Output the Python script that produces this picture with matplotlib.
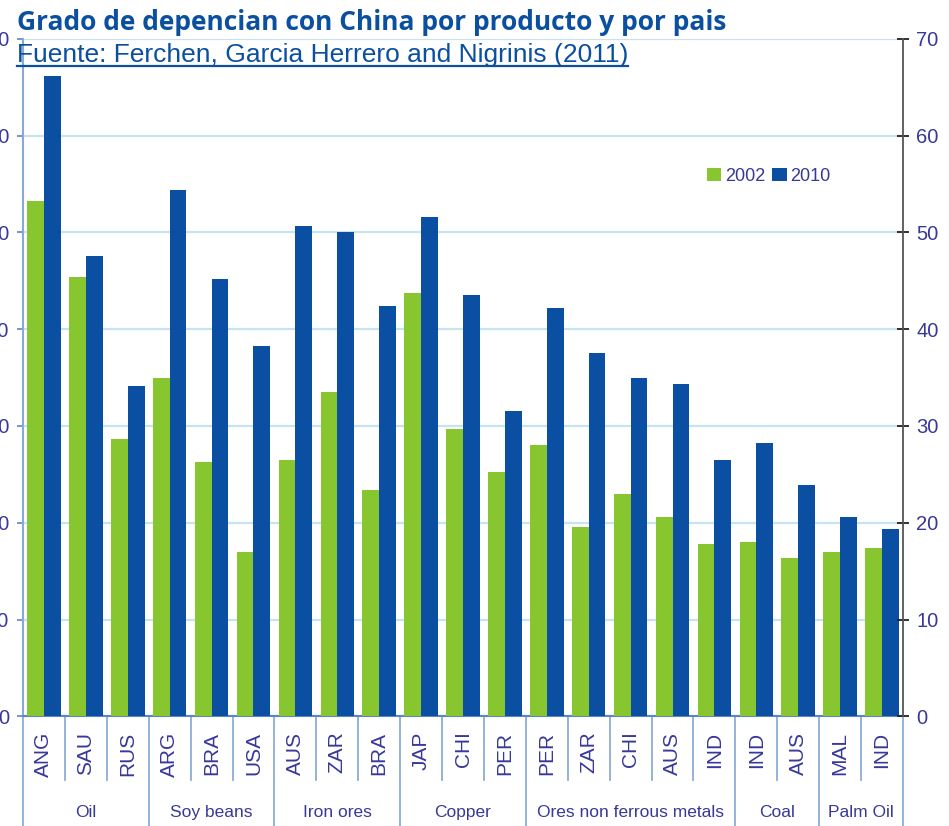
import numpy as np
import matplotlib
matplotlib.use("Agg")
from matplotlib import pyplot as plt
from matplotlib.lines import Line2D
import matplotlib.transforms as mtransforms

# china dependence by product and country (%)
countries = ["ANG", "SAU", "RUS", "ARG", "BRA", "USA", "AUS", "ZAR", "BRA", "JAP", "CHI",
             "PER", "PER", "ZAR", "CHI", "AUS", "IND", "IND", "AUS", "MAL", "IND"]
groups = ["Oil", "Soy beans", "Iron ores", "Copper", "Ores non ferrous metals", "Coal", "Palm Oil"]
group_sizes = [3, 3, 3, 3, 5, 2, 2]
v2002 = [53.2, 45.4, 28.6, 34.9, 26.3, 17.0, 26.5, 33.5, 23.4, 43.7, 29.7,
         25.2, 28.0, 19.6, 23.0, 20.6, 17.8, 18.0, 16.4, 17.0, 17.4]
v2010 = [66.1, 47.6, 34.1, 54.4, 45.2, 38.3, 50.6, 50.0, 42.4, 51.6, 43.5,
         31.5, 42.2, 37.5, 34.9, 34.3, 26.5, 28.2, 23.9, 20.6, 19.4]
yticks = [0, 10, 20, 30, 40, 50, 60, 70]

GREEN = "#88c630"
BLUE = "#0b4fa2"
TXT = "#38389a"
TITLE = "#0b4f9f"

plt.rcParams["font.family"] = ["Liberation Sans", "DejaVu Sans"]

fig = plt.figure(figsize=(9.49, 8.26), dpi=100)
ax = fig.add_axes([23 / 949, 1 - 716.3 / 826, 880 / 949, 677.6 / 826])

x = np.arange(len(countries))
ax.bar(x - 0.2, v2002, width=0.4, color=GREEN, label="2002", zorder=3)
ax.bar(x + 0.2, v2010, width=0.4, color=BLUE, label="2010", zorder=3)

ax.set_xlim(-0.5, len(countries) - 0.5)
ax.set_ylim(0, 70)
ax.set_yticks(yticks)
ax.yaxis.grid(True, color="#c5e4f0", lw=1.6, zorder=0)
ax.set_axisbelow(True)

# left axis: light blue, labels run off the edge
for side in ["top", "right"]:
    ax.spines[side].set_visible(False)
ax.spines["left"].set_color("#8aa8d8")
ax.spines["left"].set_linewidth(1.5)
ax.spines["bottom"].set_color("#5b86c5")
ax.spines["bottom"].set_linewidth(1.5)
ax.tick_params(axis="y", direction="out", length=4, width=1.2, color="#5b86c5",
               labelcolor=TXT, labelsize=14.5, pad=6)

# country labels under each pair
ax.set_xticks(x)
ax.set_xticklabels(countries, rotation=90, color=TXT, fontsize=15)
ax.tick_params(axis="x", length=0, pad=11)

# right axis
ax2 = ax.twinx()
ax2.set_ylim(0, 70)
ax2.set_yticks(yticks)
for side in ["top", "left", "bottom"]:
    ax2.spines[side].set_visible(False)
ax2.spines["right"].set_color("#555555")
ax2.spines["right"].set_linewidth(1.3)
ax2.tick_params(axis="y", direction="inout", length=9, width=1.3, color="#222222",
                labelcolor=TXT, labelsize=14.5, pad=5)

# separators and group names below the axis
trans = mtransforms.blended_transform_factory(ax.transData, ax.transAxes)
bounds = np.concatenate([[0], np.cumsum(group_sizes)]) - 0.5
for b in np.arange(-0.5, len(countries)):
    long_line = np.any(np.isclose(bounds, b))
    y_end = -0.165 if long_line else -0.094
    ax.plot([b, b], [0, y_end], transform=trans, color="#8cacd8", lw=1.3, clip_on=False)
for name, lo, hi in zip(groups, bounds[:-1], bounds[1:]):
    ax.text((lo + hi) / 2, -0.142, name, transform=trans, ha="center", va="center",
            color=TXT, fontsize=12.5)

leg = ax.legend(loc="center left", bbox_to_anchor=(0.777, 0.797), ncol=2, frameon=False,
                handlelength=0.8, handleheight=0.8, handletextpad=0.2, columnspacing=0.4,
                borderpad=0, borderaxespad=0, prop={"size": 13})
for t in leg.get_texts():
    t.set_color(TXT)

fig.text(17 / 949, 1 - 30 / 826, "Grado de depencian con China por producto y por pais",
         ha="left", va="baseline", fontsize=19, fontweight="bold", color=TITLE,
         family=["Open Sans", "DejaVu Sans"])
sub = fig.text(17 / 949, 1 - 62 / 826, "Fuente: Ferchen, Garcia Herrero and Nigrinis (2011)",
               ha="left", va="baseline", fontsize=19, color=TITLE)

# underline the source line
fig.canvas.draw()
bb = sub.get_window_extent()
fig.add_artist(Line2D([bb.x0 / fig.bbox.width, bb.x1 / fig.bbox.width],
                      [1 - 66 / 826, 1 - 66 / 826], transform=fig.transFigure,
                      color=TITLE, lw=1.6))

fig.savefig("out.png", dpi=100)
